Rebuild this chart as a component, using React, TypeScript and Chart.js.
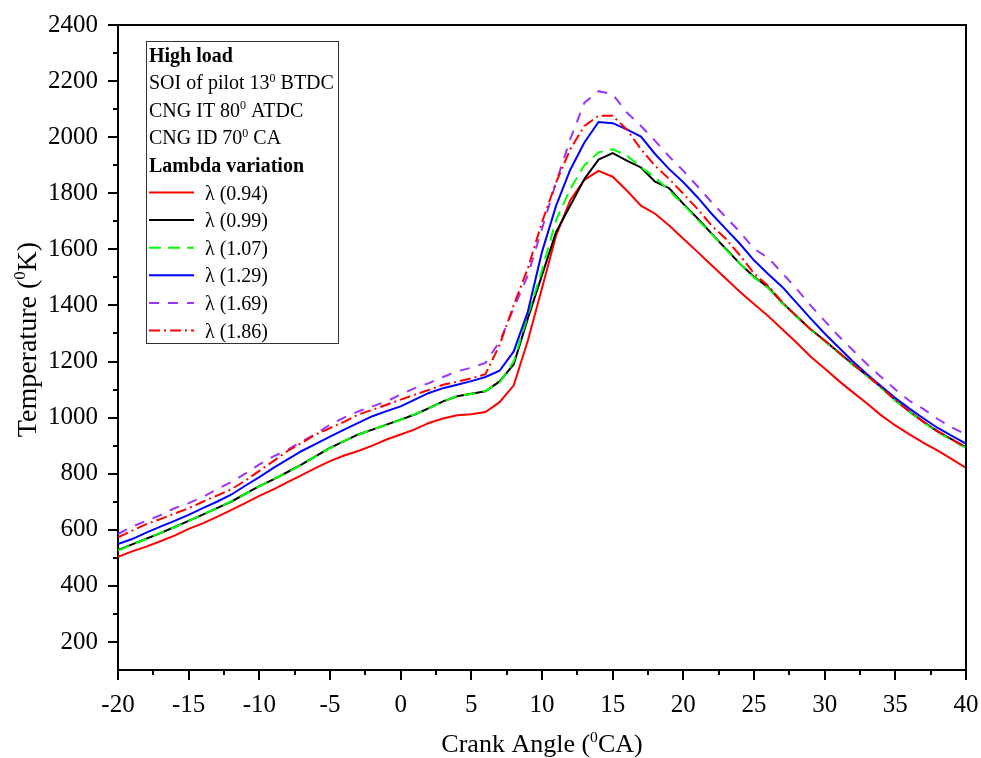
import React, { useEffect, useRef } from 'react';
import Chart from 'chart.js/auto';

const SERIF = "'Liberation Serif', 'Times New Roman', Times, serif";

// crank angle, degrees
const crankAngle = [
  -20, -19, -18, -17, -16, -15, -14, -13, -12, -11,
  -10, -9, -8, -7, -6, -5, -4, -3, -2, -1,
  0, 1, 2, 3, 4, 5, 6, 7, 8, 9,
  10, 11, 12, 13, 14, 15, 16, 17, 18, 19,
  20, 21, 22, 23, 24, 25, 26, 27, 28, 29,
  30, 31, 32, 33, 34, 35, 36, 37, 38, 39,
  40,
];

// temperature (K) per lambda
const lambda094 = [
  504, 523, 540, 559, 579, 603, 623, 646, 670, 695,
  721, 744, 770, 795, 821, 845, 865, 881, 900, 922,
  940, 958, 981, 997, 1008, 1012, 1020, 1055, 1115, 1275,
  1461, 1650, 1775, 1848, 1880, 1859, 1810, 1756, 1727, 1685,
  1638, 1591, 1543, 1496, 1449, 1405, 1362, 1315, 1268, 1218,
  1175, 1131, 1090, 1050, 1008, 972, 940, 910, 882, 852,
  821,
];
const lambda099 = [
  528, 548, 568, 588, 610, 632, 654, 677, 700, 728,
  756, 780, 806, 833, 863, 892, 916, 940, 957, 975,
  993, 1011, 1034, 1058, 1076, 1085, 1094, 1129, 1190, 1354,
  1508, 1662, 1756, 1851, 1920, 1943, 1916, 1892, 1841, 1818,
  1762, 1711, 1656, 1602, 1549, 1502, 1465, 1410, 1362, 1315,
  1275, 1232, 1190, 1150, 1108, 1062, 1022, 985, 950, 922,
  895,
];
const lambda107 = [
  526, 547, 567, 589, 609, 631, 655, 676, 701, 727,
  755, 781, 805, 834, 862, 891, 917, 939, 958, 974,
  992, 1012, 1033, 1057, 1077, 1084, 1095, 1125, 1200, 1366,
  1525, 1705, 1815, 1900, 1946, 1957, 1935, 1892, 1857, 1810,
  1760, 1706, 1655, 1600, 1549, 1500, 1462, 1408, 1360, 1313,
  1272, 1230, 1188, 1148, 1106, 1060, 1020, 983, 948, 920,
  892,
];
const lambda129 = [
  549, 567, 590, 611, 632, 653, 677, 700, 725, 757,
  788, 821, 851, 881, 906, 932, 957, 981, 1005, 1023,
  1040, 1064, 1088, 1105, 1117, 1130, 1145, 1167, 1236, 1378,
  1591, 1756, 1884, 1981, 2054, 2050, 2028, 2002, 1940, 1886,
  1839, 1786, 1727, 1673, 1620, 1561, 1512, 1466, 1410, 1354,
  1300, 1250, 1200, 1155, 1112, 1070, 1032, 997, 963, 935,
  907,
];
const lambda169 = [
  585, 611, 632, 652, 677, 695, 717, 744, 770, 800,
  833, 862, 885, 915, 942, 975, 1000, 1022, 1040, 1058,
  1082, 1105, 1123, 1145, 1165, 1178, 1195, 1271, 1390, 1508,
  1673, 1839, 1993, 2123, 2164, 2153, 2088, 2040, 1987, 1931,
  1880, 1825, 1768, 1715, 1662, 1602, 1570, 1515, 1460, 1400,
  1345, 1290, 1240, 1190, 1145, 1100, 1060, 1030, 995, 965,
  940,
];
const lambda186 = [
  573, 597, 620, 638, 658, 677, 700, 722, 744, 775,
  810, 845, 881, 910, 940, 963, 985, 1011, 1028, 1046,
  1064, 1082, 1099, 1117, 1128, 1140, 1155, 1259, 1401, 1532,
  1697, 1839, 1957, 2040, 2076, 2076, 2028, 1957, 1898, 1851,
  1798, 1744, 1685, 1638, 1579, 1514, 1470, 1412, 1362, 1315,
  1275, 1232, 1190, 1150, 1108, 1062, 1022, 985, 952, 922,
  893,
];

const xMajorTicks = [-20, -15, -10, -5, 0, 5, 10, 15, 20, 25, 30, 35, 40];
const xMinorTicks = [-17.5, -12.5, -7.5, -2.5, 2.5, 7.5, 12.5, 17.5, 22.5, 27.5, 32.5, 37.5];
const yMajorTicks = [200, 400, 600, 800, 1000, 1200, 1400, 1600, 1800, 2000, 2200, 2400];
const yMinorTicks = [300, 500, 700, 900, 1100, 1300, 1500, 1700, 1900, 2100, 2300];

type Part = { t: string; sup?: boolean; bold?: boolean };

const legendNotes: Part[][] = [
  [{ t: 'High load', bold: true }],
  [{ t: 'SOI of pilot 13' }, { t: '0', sup: true }, { t: ' BTDC' }],
  [{ t: 'CNG IT 80' }, { t: '0', sup: true }, { t: ' ATDC' }],
  [{ t: 'CNG ID 70' }, { t: '0', sup: true }, { t: ' CA' }],
  [{ t: 'Lambda variation', bold: true }],
];
const xTitle: Part[] = [{ t: 'Crank Angle (' }, { t: '0', sup: true }, { t: 'CA)' }];
const yTitle: Part[] = [{ t: 'Temperature (' }, { t: '0', sup: true }, { t: 'K)' }];

const series = [
  { label: 'λ (0.94)', values: lambda094, color: '#ff0000', dash: [] as number[] },
  { label: 'λ (0.99)', values: lambda099, color: '#000000', dash: [] as number[] },
  { label: 'λ (1.07)', values: lambda107, color: '#00ff00', dash: [12, 7] },
  { label: 'λ (1.29)', values: lambda129, color: '#0000ff', dash: [] as number[] },
  { label: 'λ (1.69)', values: lambda169, color: '#9933ff', dash: [10, 9] },
  { label: 'λ (1.86)', values: lambda186, color: '#ff0000', dash: [11, 4, 2, 4] },
];

function richWidth(ctx: CanvasRenderingContext2D, parts: Part[], size: number) {
  let w = 0;
  for (const p of parts) {
    ctx.font = `${p.bold ? 'bold ' : ''}${p.sup ? size * 0.6 : size}px ${SERIF}`;
    w += ctx.measureText(p.t).width;
  }
  return w;
}

function drawRich(ctx: CanvasRenderingContext2D, parts: Part[], x: number, y: number, size: number) {
  let cx = x;
  for (const p of parts) {
    ctx.font = `${p.bold ? 'bold ' : ''}${p.sup ? size * 0.6 : size}px ${SERIF}`;
    ctx.fillText(p.t, cx, p.sup ? y - size * 0.38 : y);
    cx += ctx.measureText(p.t).width;
  }
}

const decorPlugin = {
  id: 'decor',
  afterDraw(chart: any) {
    const { ctx, chartArea: a, scales } = chart;
    const x = scales.x;
    const y = scales.y;
    ctx.save();
    ctx.strokeStyle = '#000';
    ctx.lineWidth = 2;

    // top and right frame
    ctx.beginPath();
    ctx.moveTo(a.left - 1, a.top);
    ctx.lineTo(a.right, a.top);
    ctx.lineTo(a.right, a.bottom + 1);
    ctx.stroke();

    // minor ticks
    ctx.beginPath();
    yMinorTicks.forEach(v => {
      const py = Math.round(y.getPixelForValue(v));
      ctx.moveTo(a.left - 5, py);
      ctx.lineTo(a.left, py);
    });
    xMinorTicks.forEach(v => {
      const px = Math.round(x.getPixelForValue(v));
      ctx.moveTo(px, a.bottom);
      ctx.lineTo(px, a.bottom + 5);
    });
    ctx.stroke();

    // axis titles
    ctx.fillStyle = '#000';
    ctx.textBaseline = 'alphabetic';
    ctx.textAlign = 'left';
    const tw = richWidth(ctx, xTitle, 26);
    drawRich(ctx, xTitle, (a.left + a.right) / 2 - tw / 2, 752, 26);
    ctx.save();
    ctx.translate(36, (a.top + a.bottom) / 2 - 8);
    ctx.rotate(-Math.PI / 2);
    const yw = richWidth(ctx, yTitle, 28);
    drawRich(ctx, yTitle, -yw / 2, 0, 28);
    ctx.restore();

    // legend box
    const bx = a.left + 28;
    const by = a.top + 16;
    ctx.lineWidth = 1;
    ctx.strokeStyle = '#333';
    ctx.strokeRect(bx + 0.5, by + 0.5, 192, 302);
    const step = 27.6;
    let base = by + 20.5;
    legendNotes.forEach(parts => {
      drawRich(ctx, parts, bx + 3, base, 20);
      base += step;
    });
    series.forEach(s => {
      ctx.strokeStyle = s.color;
      ctx.lineWidth = 2;
      ctx.setLineDash(s.dash);
      ctx.beginPath();
      ctx.moveTo(bx + 3, base - 7);
      ctx.lineTo(bx + 48, base - 7);
      ctx.stroke();
      ctx.setLineDash([]);
      ctx.font = `20px ${SERIF}`;
      ctx.fillText(s.label, bx + 59, base);
      base += step;
    });
    ctx.restore();
  },
};

const App: React.FC = () => {
  const canvasRef = useRef<HTMLCanvasElement>(null);

  useEffect(() => {
    document.body.style.margin = '0';
    if (!canvasRef.current) return;

    const tickFont = { family: SERIF, size: 25 };
    const chart = new Chart(canvasRef.current, {
      type: 'line',
      data: {
        datasets: series.map((s, i) => ({
          label: s.label,
          data: crankAngle.map((c, j) => ({ x: c, y: s.values[j] })),
          borderColor: s.color,
          backgroundColor: s.color,
          borderWidth: 2,
          borderDash: s.dash,
          pointRadius: 0,
          tension: 0,
          fill: false,
          order: series.length - i,
        })),
      },
      options: {
        animation: false,
        responsive: true,
        maintainAspectRatio: false,
        events: [],
        layout: { padding: { top: 22, right: 15, left: 0, bottom: 0 } },
        plugins: {
          legend: { display: false },
          tooltip: { enabled: false },
        },
        scales: {
          x: {
            type: 'linear',
            min: -20,
            max: 40,
            afterBuildTicks: (s: any) => { s.ticks = xMajorTicks.map(v => ({ value: v })); },
            afterFit: (s: any) => { s.height = 88; s.paddingLeft = 0; s.paddingRight = 0; },
            ticks: { font: tickFont, color: '#000', padding: 10, maxRotation: 0, autoSkip: false, callback: (v: any) => String(v) },
            grid: { drawOnChartArea: false, drawTicks: true, tickLength: 10, color: '#000', lineWidth: 2 },
            border: { color: '#000', width: 2 },
          },
          y: {
            type: 'linear',
            min: 100,
            max: 2400,
            afterBuildTicks: (s: any) => { s.ticks = yMajorTicks.map(v => ({ value: v })); },
            afterFit: (s: any) => { s.width = 118; },
            ticks: { font: tickFont, color: '#000', padding: 10, autoSkip: false, callback: (v: any) => String(v) },
            grid: { drawOnChartArea: false, drawTicks: true, tickLength: 10, color: '#000', lineWidth: 2 },
            border: { color: '#000', width: 2 },
          },
        },
      },
      plugins: [decorPlugin],
    } as any);

    return () => chart.destroy();
  }, []);

  return (
    <div style={{ width: 981, height: 758, position: 'relative', background: '#fff' }}>
      <canvas ref={canvasRef}></canvas>
    </div>
  );
};

export default App;
